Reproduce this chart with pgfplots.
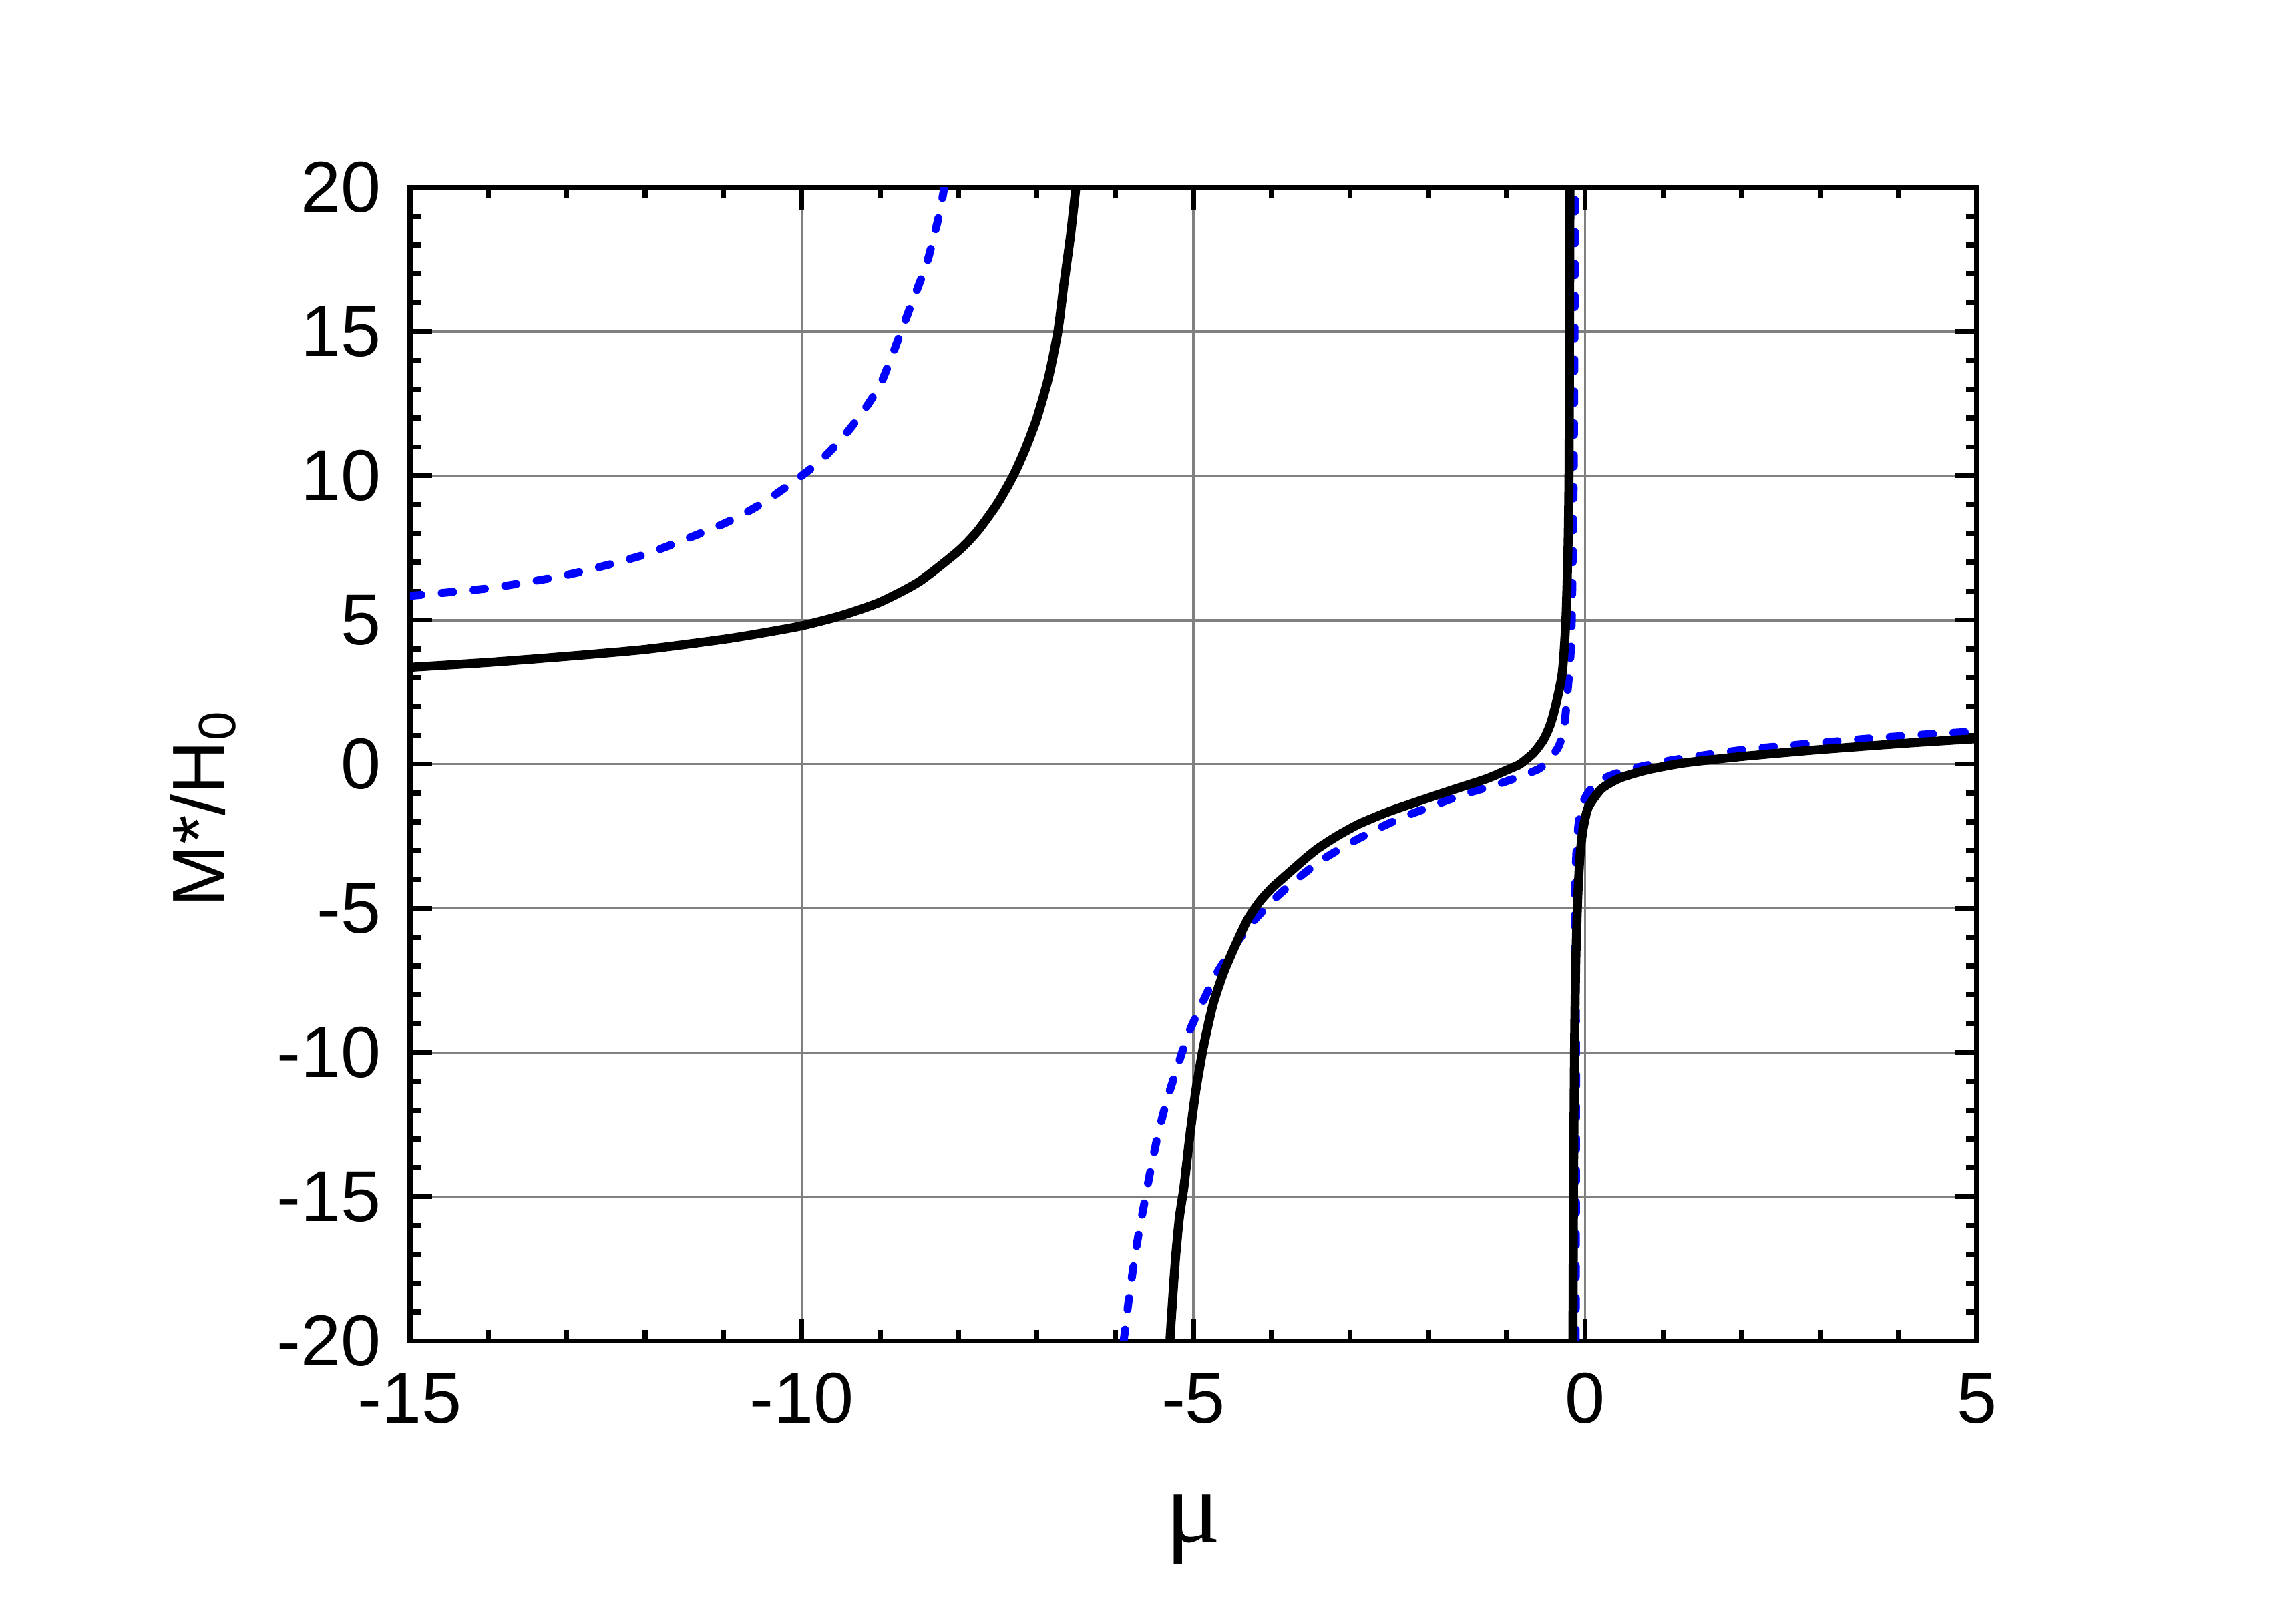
\documentclass[border=0pt]{standalone}
\usepackage{pgfplots}
\pgfplotsset{compat=1.18}
\usepackage{fontspec}
\setmainfont{Liberation Sans}
\newfontfamily\mufont{Liberation Serif}
\begin{document}
\begin{tikzpicture}
\path[use as bounding box] (0,0) rectangle (15.68cm,10.99cm);
\begin{axis}[
  at={(2.80cm,1.83cm)}, anchor=south west,
  scale only axis, width=10.70cm, height=7.88cm,
  xmin=-15, xmax=5, ymin=-20, ymax=20,
  xtick={-15,-10,-5,0,5}, ytick={-20,-15,-10,-5,0,5,10,15,20},
  minor x tick num=4, minor y tick num=4,
  tick align=inside, xtick pos=both, ytick pos=both,
  xticklabel pos=left, yticklabel pos=left,
  major tick length=0.15cm, minor tick length=0.075cm,
  every tick/.style={black, line width=1pt},
  grid=major,
  major grid style={color=gray, line width=0.5pt},
  axis line style={line width=1pt},
  /pgf/number format/assume math mode=true,
  tick label style={font=\fontsize{14}{16}\selectfont},
  xticklabel style={anchor=base, yshift=-0.56cm},
  yticklabel style={anchor=east, inner sep=0pt, xshift=-0.19cm},
  xlabel={\mufont μ},
  xlabel style={at={(axis description cs:0.5,-0.174)}, anchor=base, font=\fontsize{20}{23}\selectfont},
  ylabel={M*/H\textsubscript{0}},
  ylabel style={at={(axis description cs:-0.132,0.462)}, anchor=center, font=\fontsize{14.5}{17}\selectfont},
  clip=true,
  blueline/.style={blue, line width=1.55pt, dash pattern=on 2.2pt off 4pt, line cap=round, line join=round, smooth, tension=0.4},
  blackline/.style={black, line width=1.75pt, line join=round, smooth, tension=0.4},
]
% blue dashed curve
\addplot[blueline] coordinates {
(-15,5.84) (-14,6.1) (-13,6.56) (-12,7.27) (-11,8.33) (-10.5,9.05) (-10,10.0) (-9.75,10.55) (-9.5,11.25)
(-9.25,12.1) (-9,13.15) (-8.8,14.5) (-8.6,15.95) (-8.4,17.4) (-8.25,19.0) (-8.18,20)
};
\addplot[blueline] coordinates {
(-5.89,-20) (-5.83,-18.67) (-5.77,-17.5) (-5.70,-16.3) (-5.62,-15.14) (-5.54,-13.98) (-5.45,-12.82)
(-5.34,-11.66) (-5.21,-10.55) (-5.07,-9.39) (-4.90,-8.36) (-4.70,-7.25) (-4.49,-6.37) (-4.28,-5.59)
(-3.98,-4.71) (-3.69,-4.01) (-3.36,-3.32) (-3.0,-2.74) (-2.65,-2.24) (-2.30,-1.81) (-1.91,-1.41)
(-1.54,-1.04) (-1.15,-0.73) (-0.79,-0.39) (-0.58,-0.15) (-0.46,0.15) (-0.34,0.6) (-0.27,1.2)
(-0.234,2.2) (-0.19,3.6) (-0.17,5) (-0.145,10) (-0.135,15) (-0.128,20)
};
\addplot[blueline] coordinates {
(-0.12,-20) (-0.115,-10) (-0.13,-5) (-0.11,-3) (-0.08,-2.0) (-0.03,-1.35) (0.05,-0.95) (0.2,-0.55)
(0.5,-0.23) (1.0,0.08) (1.5,0.3) (2.1,0.52) (2.8,0.69) (3.6,0.88) (4.3,1.02) (5,1.13)
};
% black solid curve
\addplot[blackline] coordinates {
(-15,3.36) (-14,3.53) (-13,3.74) (-12,3.98) (-11,4.33) (-10.5,4.55) (-10,4.8) (-9.5,5.15) (-9,5.62)
(-8.5,6.33) (-8,7.39) (-7.75,8.1) (-7.5,9.04) (-7.3,10.0) (-7.15,10.9) (-7,11.98) (-6.85,13.4)
(-6.73,15) (-6.65,16.7) (-6.57,18.3) (-6.5,20)
};
\addplot[blackline] coordinates {
(-5.30,-20) (-5.236,-17.4) (-5.18,-15.75) (-5.12,-14.65) (-5.05,-12.99) (-4.97,-11.33) (-4.87,-9.78)
(-4.75,-8.34) (-4.61,-7.2) (-4.44,-6.13) (-4.30,-5.35) (-4.15,-4.75) (-4.0,-4.3) (-3.87,-3.98)
(-3.71,-3.6) (-3.55,-3.22) (-3.40,-2.9) (-3.16,-2.48) (-2.89,-2.08) (-2.54,-1.68) (-2.13,-1.29)
(-1.70,-0.9) (-1.25,-0.5) (-0.95,-0.15) (-0.83,0) (-0.66,0.38) (-0.53,0.85) (-0.44,1.4) (-0.37,2.1)
(-0.29,3.2) (-0.245,5) (-0.218,7.5) (-0.205,10) (-0.198,15) (-0.193,20)
};
\addplot[blackline] coordinates {
(-0.155,-20) (-0.148,-15) (-0.135,-10) (-0.12,-7) (-0.095,-4.73) (-0.065,-3.19) (-0.027,-2.27)
(0.04,-1.5) (0.2,-0.88) (0.37,-0.58) (0.51,-0.42) (0.81,-0.19) (1.27,0.04) (2.03,0.27) (2.99,0.5)
(4.13,0.73) (5,0.88)
};
\end{axis}
\end{tikzpicture}
\end{document}
